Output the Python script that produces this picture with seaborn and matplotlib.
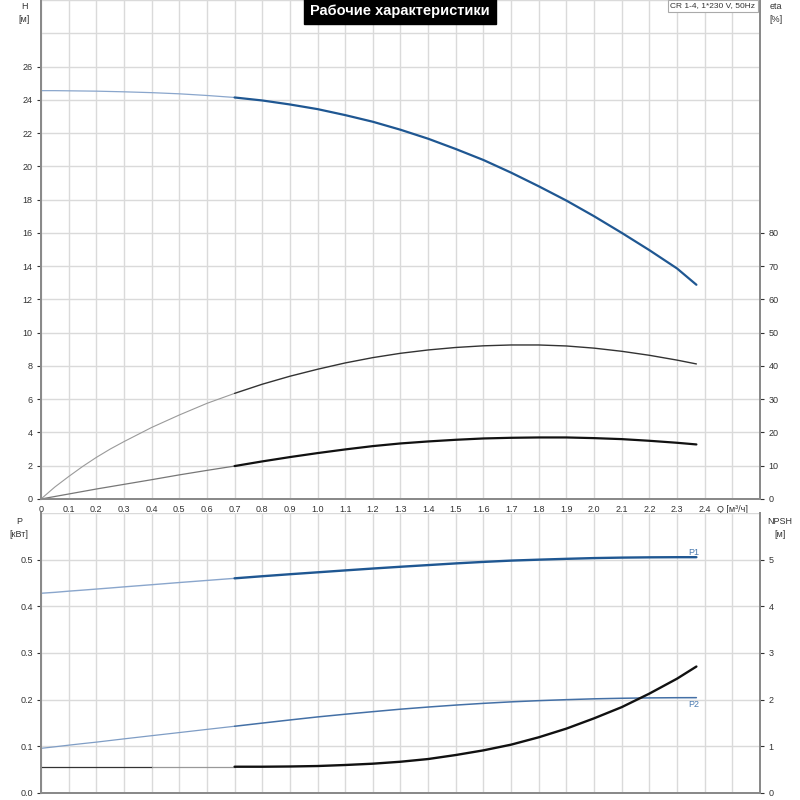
import numpy as np
import matplotlib
matplotlib.use("Agg")
import matplotlib.pyplot as plt
import seaborn as sns

# flow points [m3/h]
q = np.array([0, 0.05, 0.1, 0.15, 0.2, 0.25, 0.3, 0.4, 0.5, 0.6, 0.7, 0.8, 0.9,
              1.0, 1.1, 1.2, 1.3, 1.4, 1.5, 1.6, 1.7, 1.8, 1.9, 2.0, 2.1, 2.2,
              2.3, 2.37])

# head [m]
head = np.array([24.55, 24.55, 24.54, 24.53, 24.52, 24.5, 24.48, 24.43, 24.36,
                 24.26, 24.14, 23.96, 23.72, 23.44, 23.08, 22.68, 22.2, 21.66,
                 21.04, 20.38, 19.62, 18.8, 17.94, 17.0, 16.0, 14.96, 13.86, 12.88])

# efficiencies [%]
eta_pump = np.array([0, 3.6, 6.75, 9.75, 12.5, 15.0, 17.25, 21.5, 25.25, 28.75,
                     31.75, 34.5, 36.9, 39.0, 40.9, 42.5, 43.8, 44.8, 45.55, 46.05,
                     46.3, 46.3, 46.0, 45.35, 44.4, 43.2, 41.75, 40.6])
eta_total = np.array([0, 0.75, 1.5, 2.25, 3.0, 3.7, 4.4, 5.8, 7.25, 8.6, 9.9, 11.3,
                      12.6, 13.8, 14.9, 15.9, 16.7, 17.3, 17.8, 18.2, 18.4, 18.5,
                      18.5, 18.3, 18.0, 17.5, 16.9, 16.4])

# power [kW]
p1 = np.array([0.428, 0.430, 0.4325, 0.4347, 0.437, 0.4393, 0.4417, 0.4463, 0.451,
               0.4555, 0.46, 0.4645, 0.4688, 0.4729, 0.477, 0.481, 0.4848, 0.4884,
               0.492, 0.4952, 0.498, 0.5, 0.5018, 0.5034, 0.5044, 0.505, 0.5053,
               0.5053])
p2 = np.array([0.0957, 0.099, 0.1025, 0.1058, 0.109, 0.1125, 0.116, 0.1228, 0.1295,
               0.1363, 0.143, 0.1498, 0.1565, 0.163, 0.1688, 0.1743, 0.1796, 0.1842,
               0.1884, 0.1921, 0.1953, 0.1979, 0.2, 0.2018, 0.203, 0.2038, 0.2042,
               0.2043])

# NPSH [m]
npsh = np.array([0.563, 0.563, 0.563, 0.563, 0.563, 0.563, 0.563, 0.563, 0.563,
                 0.563, 0.563, 0.563, 0.568, 0.578, 0.6, 0.628, 0.67, 0.728, 0.814,
                 0.914, 1.036, 1.194, 1.38, 1.6, 1.84, 2.13, 2.45, 2.71])

title = "Рабочие характеристики"
pump_info = "CR 1-4, 1*230 V, 50Hz"
x_ticks = [round(0.1 * i, 1) for i in range(25)]
x_labels = ["0"] + [f"{v:.1f}" for v in x_ticks[1:]]

sns.set_style("white")
plt.rcParams['font.family'] = ['Liberation Sans', 'DejaVu Sans']

fig = plt.figure(figsize=(8, 8), dpi=100)
ax1 = fig.add_axes([41 / 800, 1 - 499 / 800, 719 / 800, 499 / 800])
ax1r = ax1.twinx()
ax2 = fig.add_axes([41 / 800, 7 / 800, 719 / 800, 280 / 800])
ax2r = ax2.twinx()

thin = q <= 0.7
thick = q >= 0.7
blue = "#1f5792"
light_blue = "#8aa6cc"

# top: head and efficiency
sns.lineplot(x=q[thin], y=head[thin], ax=ax1, color=light_blue, linewidth=0.9)
sns.lineplot(x=q[thick], y=head[thick], ax=ax1, color=blue, linewidth=1.6)
sns.lineplot(x=q[thin], y=eta_pump[thin], ax=ax1r, color="#9a9a9a", linewidth=0.8)
sns.lineplot(x=q[thick], y=eta_pump[thick], ax=ax1r, color="#333333", linewidth=1.0)
sns.lineplot(x=q[thin], y=eta_total[thin], ax=ax1r, color="#777777", linewidth=0.9)
sns.lineplot(x=q[thick], y=eta_total[thick], ax=ax1r, color="#111111", linewidth=1.6)

# bottom: power and NPSH
sns.lineplot(x=q[thin], y=p1[thin], ax=ax2, color=light_blue, linewidth=1.0)
sns.lineplot(x=q[thick], y=p1[thick], ax=ax2, color=blue, linewidth=1.7)
sns.lineplot(x=q[thin], y=p2[thin], ax=ax2, color="#7f9dc5", linewidth=0.9)
sns.lineplot(x=q[thick], y=p2[thick], ax=ax2, color="#4470a6", linewidth=1.1)
sns.lineplot(x=q[q <= 0.4], y=npsh[q <= 0.4], ax=ax2r, color="#333333", linewidth=0.9)
sns.lineplot(x=q[(q >= 0.4) & thin], y=npsh[(q >= 0.4) & thin], ax=ax2r,
             color="#999999", linewidth=0.9)
sns.lineplot(x=q[thick], y=npsh[thick], ax=ax2r, color="#111111", linewidth=1.7)

grid_kw = dict(color="#dadada", linewidth=1.0)
tick_color = "#333333"
spine_color = "#8a8a8a"

for ax in (ax1, ax2):
    ax.set_xlim(0, 2.6)
    ax.set_xticks(x_ticks + [2.5])
    ax.grid(True, which="both", **grid_kw)
    ax.set_axisbelow(True)

ax1.set_xticklabels(x_labels + ["Q [м³/ч]"])
ax1.tick_params(axis="x", length=0, pad=4, labelsize=6.5, colors=tick_color)
ax2.set_xticklabels([])
ax2.tick_params(axis="x", length=0)

ax1.set_ylim(0, 30)
ax1.set_yticks(range(0, 27, 2))
ax1.set_yticks([28, 30], minor=True)
ax1r.set_ylim(0, 150)
ax1r.set_yticks(range(0, 81, 10))

ax2.set_ylim(0, 0.6)
ax2.set_yticks([0, 0.1, 0.2, 0.3, 0.4, 0.5])
ax2.set_yticklabels(["0.0", "0.1", "0.2", "0.3", "0.4", "0.5"])
ax2.set_yticks([0.6], minor=True)
ax2r.set_ylim(0, 6)
ax2r.set_yticks(range(0, 6))

for ax in (ax1, ax1r, ax2, ax2r):
    ax.set_xlabel("")
    ax.set_ylabel("")
    ax.tick_params(axis="y", which="major", length=3, width=0.8, pad=3,
                   labelsize=6.5, colors=tick_color)
    ax.tick_params(axis="y", which="minor", length=0)
    ax.spines["top"].set_visible(False)
    for side in ("left", "right", "bottom"):
        ax.spines[side].set_color(spine_color)
        ax.spines[side].set_linewidth(1.4)
    ax.patch.set_alpha(0)
for ax in (ax1r, ax2r):
    ax.grid(False)

# curve labels
ax2.text(2.36, 0.515, "P1", color="#4a7ab0", fontsize=6.5, ha="center", va="center")
ax2.text(2.36, 0.189, "P2", color="#4a7ab0", fontsize=6.5, ha="center", va="center")

# axis unit labels
lab = dict(fontsize=6.5, color=tick_color, ha="center", va="center", linespacing=1.6)
fig.text(24 / 800, 1 - 13 / 800, "H\n[м]", **lab)
fig.text(776 / 800, 1 - 13 / 800, "eta\n[%]", **lab)
fig.text(19 / 800, 1 - 528 / 800, "P\n[кВт]", **lab)
fig.text(780 / 800, 1 - 528 / 800, "NPSH\n[м]", **lab)

# title and pump box
fig.text(400 / 800, 1 - 11 / 800, title, fontsize=10.5, fontweight="bold",
         color="white", ha="center", va="center",
         family=['Liberation Sans Narrow', 'Liberation Sans', 'DejaVu Sans'],
         bbox=dict(facecolor="black", edgecolor="black", boxstyle="square,pad=0.4"))
fig.text(713 / 800, 1 - 6 / 800, pump_info, fontsize=6, color=tick_color,
         ha="center", va="center",
         bbox=dict(facecolor="white", edgecolor="#aaaaaa", linewidth=0.8,
                   boxstyle="square,pad=0.25"))

fig.savefig("out.png", dpi=100)
